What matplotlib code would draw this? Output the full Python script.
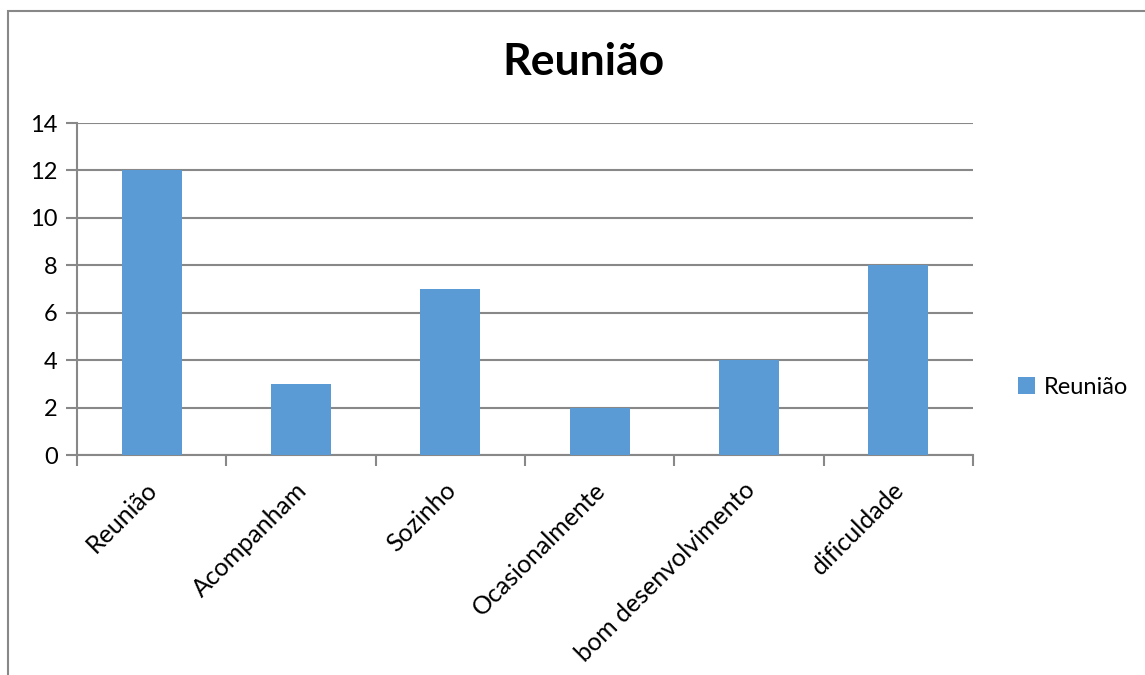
import matplotlib.pyplot as plt
from matplotlib.patches import Rectangle
import numpy as np

# dados do grafico
categorias = ['Reunião', 'Acompanham', 'Sozinho', 'Ocasionalmente',
              'bom desenvolvimento', 'dificuldade']
valores = [12, 3, 7, 2, 4, 8]
serie = 'Reunião'
yticks = [0, 2, 4, 6, 8, 10, 12, 14]

plt.rcParams['font.family'] = ['Lato', 'DejaVu Sans']
cinza = '#888888'
azul = '#5B9BD5'

fig = plt.figure(figsize=(11.45, 6.75), dpi=100)
ax = fig.add_axes([77/1145, 1 - 455/675, 896/1145, 332/675])

x = np.arange(len(categorias))
ax.bar(x, valores, width=0.4, color=azul, label=serie, zorder=3)

ax.set_xlim(-0.5, len(categorias) - 0.5)
ax.set_ylim(0, 14)
ax.set_yticks(yticks)
ax.yaxis.grid(True, color=cinza, linewidth=1.5, zorder=0)
ax.tick_params(axis='y', length=8, width=1.5, color=cinza, labelsize=17, pad=6)

# ticks do eixo x nas fronteiras das categorias
ax.set_xticks(np.arange(len(categorias) + 1) - 0.5)
ax.set_xticklabels([])
ax.tick_params(axis='x', length=8, width=1.5, color=cinza)
for i, c in enumerate(categorias):
    ax.annotate(c, xy=(i, 0), xycoords=('data', 'axes fraction'),
                xytext=(-4.5, -16.5), textcoords='offset points',
                rotation=45, ha='right', va='top', rotation_mode='anchor',
                fontsize=18)

for s in ['top', 'right']:
    ax.spines[s].set_visible(False)
for s in ['left', 'bottom']:
    ax.spines[s].set_color(cinza)
    ax.spines[s].set_linewidth(1.5)

fig.text(583/1145, 1 - 62/675, 'Reunião', ha='center', va='center',
         fontsize=32, fontweight='bold')

fig.legend(loc='center left', bbox_to_anchor=(1018/1145, 1 - 387/675),
           frameon=False, fontsize=17, handlelength=0.7, handleheight=0.7,
           handletextpad=0.4, borderpad=0, borderaxespad=0)

# borda da area do grafico
fig.patches.append(Rectangle((8/1145, -0.1), 1.2, 1.1 - 11/675,
                             transform=fig.transFigure, fill=False,
                             edgecolor=cinza, linewidth=1.5))

fig.savefig('out.png', dpi=100)
